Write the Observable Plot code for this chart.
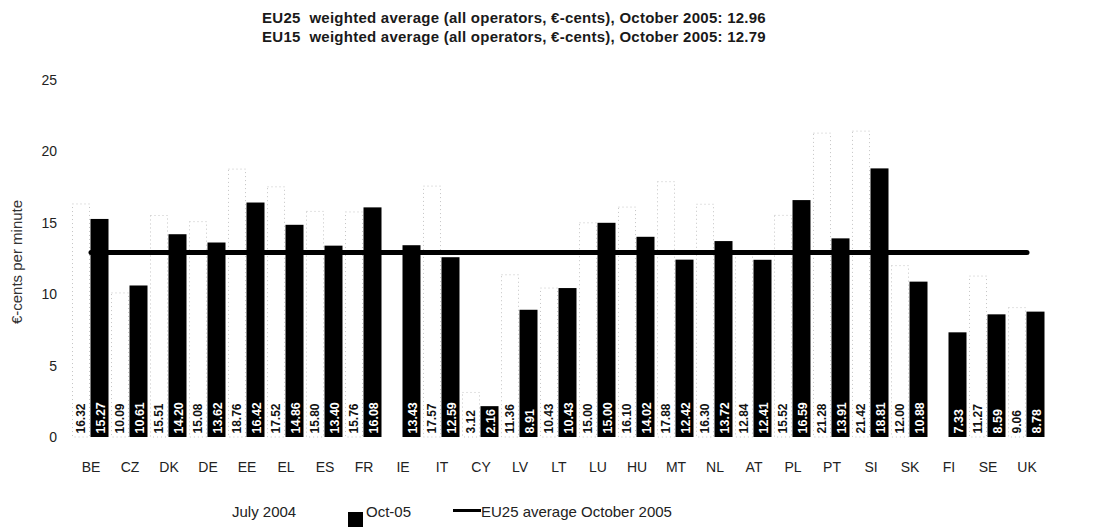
<!DOCTYPE html>
<html><head><meta charset="utf-8">
<script src="https://cdn.jsdelivr.net/npm/d3@7"></script>
<script src="https://cdn.jsdelivr.net/npm/@observablehq/plot@0.6"></script>
<style>
body{margin:0;background:#fff;font-family:"Liberation Sans",Arial,sans-serif;}
#wrap{position:relative;width:1096px;height:527px;overflow:hidden;background:#fff;}
#title{position:absolute;top:9px;left:0;width:1028px;text-align:center;font-size:15px;font-weight:bold;letter-spacing:0.25px;line-height:18.5px;color:#1a1a1a;white-space:pre;}
#chart{position:absolute;top:50px;left:0;}
#ylabel{position:absolute;left:16px;top:262px;transform:translate(-50%,-50%) rotate(-90deg);font-size:15px;color:#333;white-space:nowrap;}
.leg{position:absolute;font-size:15px;color:#222;line-height:17px;white-space:nowrap;}
.sw{position:absolute;}
</style></head><body>
<div id="wrap">
<div id="title"></div>
<div id="chart"></div>
<div id="ylabel"></div>
<div id="legend"></div>
</div>
<script>
const countries = ["BE","CZ","DK","DE","EE","EL","ES","FR","IE","IT","CY","LV","LT","LU","HU","MT","NL","AT","PL","PT","SI","SK","FI","SE","UK"];
const july2004 = [16.32,10.09,15.51,15.08,18.76,17.52,15.80,15.76,null,17.57,3.12,11.36,10.43,15.00,16.10,17.88,16.30,12.84,15.52,21.28,21.42,12.00,null,11.27,9.06];
const oct2005 = [15.27,10.61,14.20,13.62,16.42,14.86,13.40,16.08,13.43,12.59,2.16,8.91,10.43,15.00,14.02,12.42,13.72,12.41,16.59,13.91,18.81,10.88,7.33,8.59,8.78];
const eu25Average = 12.96;
const eu15Average = 12.79;
const yTicks = [0,5,10,15,20,25];
const titleLines = [
  "EU25  weighted average (all operators, €-cents), October 2005: " + eu25Average.toFixed(2),
  "EU15  weighted average (all operators, €-cents), October 2005: " + eu15Average.toFixed(2)
];
const legendLabels = ["July 2004","Oct-05","EU25 average October 2005"];
const yLabel = "€-cents per minute";

document.getElementById("title").innerHTML = titleLines.map(t => `<div>${t}</div>`).join("");
document.getElementById("ylabel").textContent = yLabel;

const rows = countries.map((c,i)=>({country:c, jul:july2004[i], oct:oct2005[i]}));
const julRows = rows.filter(d => d.jul != null);
const fmt = d3.format(".2f");
const narrow = "Liberation Sans Narrow, Liberation Sans, sans-serif";

const plot = Plot.plot({
  width:1096, height:445,
  marginTop:30, marginBottom:58, marginLeft:70.5, marginRight:49.5,
  style:{fontFamily:"Liberation Sans, Arial, sans-serif", fontSize:"14px", color:"#222", background:"white"},
  x:{domain:countries, padding:0, label:null, tickSize:0, tickPadding:25},
  y:{domain:[0,25], ticks:yTicks, tickSize:0, tickPadding:14, label:null},
  marks:[
    Plot.barY(julRows,{x:"country", y:"jul", fill:"white", stroke:"#c4c4c4", strokeDasharray:"1 3", insetLeft:1.5, insetRight:20.5}),
    Plot.barY(rows,{x:"country", y:"oct", fill:"black", insetLeft:19.5, insetRight:1.5}),
    Plot.line(rows,{x:"country", y:()=>eu25Average, stroke:"black", strokeWidth:5}),
    Plot.text(julRows,{x:"country", y:()=>0, text:d=>fmt(d.jul), rotate:-90, textAnchor:"start", dx:-9.5, dy:-4, fill:"#111", fontWeight:"bold", fontSize:12, fontFamily:narrow}),
    Plot.text(rows,{x:"country", y:()=>0, text:d=>fmt(d.oct), rotate:-90, textAnchor:"start", dx:9.5, dy:-4, fill:"white", fontWeight:"bold", fontSize:12.5, fontFamily:narrow})
  ]
});
document.getElementById("chart").appendChild(plot);

const leg = document.getElementById("legend");
leg.innerHTML = `
<div class="leg" style="left:232px;top:503px;">${legendLabels[0]}</div>
<div class="sw" style="left:348px;top:512px;width:15px;height:15px;background:#000;"></div>
<div class="leg" style="left:366px;top:503px;">${legendLabels[1]}</div>
<div class="sw" style="left:453px;top:509px;width:28px;height:3px;background:#000;"></div>
<div class="leg" style="left:481px;top:503px;">${legendLabels[2]}</div>`;
</script>
</body></html>
